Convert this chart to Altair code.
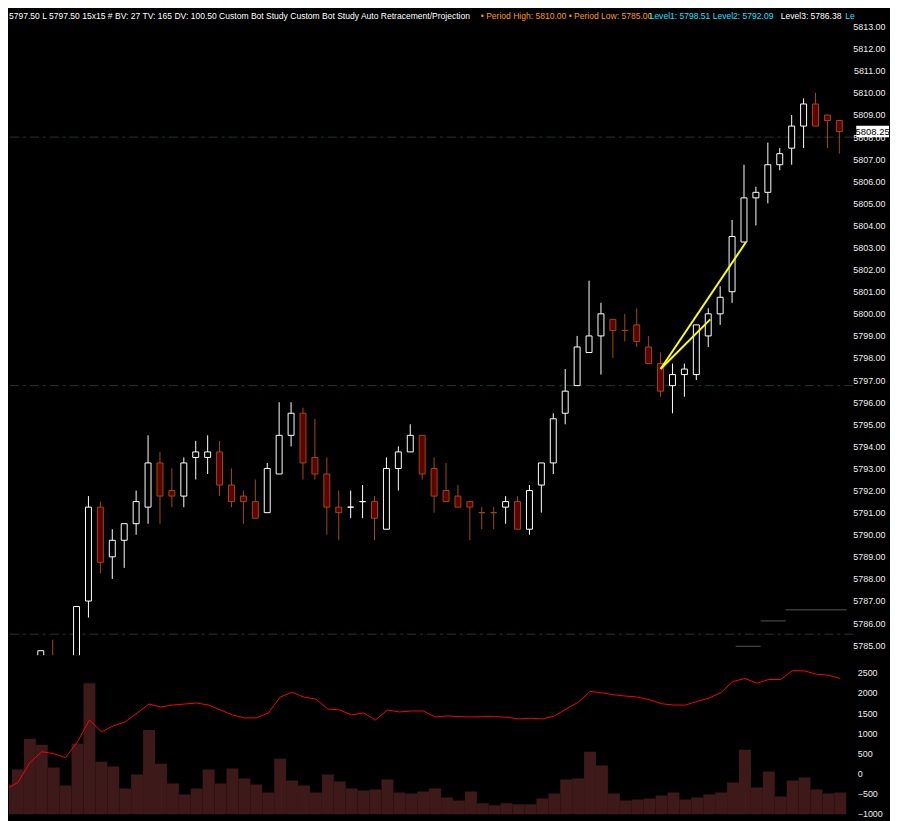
import altair as alt
import pandas as pd

# ---------------- data ----------------
opens = [5783.50, 5783.25, 5783.50, 5784.00, 5784.25, 5783.75, 5784.00, 5787.00, 5791.25, 5789.00,
         5789.75, 5790.50, 5791.25, 5793.25, 5792.00, 5791.75, 5793.50, 5793.50, 5793.75, 5792.25,
         5791.75, 5791.50, 5791.00, 5792.75, 5794.50, 5795.50, 5793.50, 5792.75, 5791.25, 5791.25,
         5791.50, 5791.50, 5790.25, 5793.00, 5793.75, 5794.50, 5793.00, 5792.00, 5791.75, 5791.50,
         5791.00, 5791.00, 5791.25, 5791.50, 5790.25, 5792.25, 5793.25, 5795.50, 5796.75, 5798.25,
         5799.00, 5799.75, 5799.25, 5799.50, 5798.50, 5797.75, 5796.75, 5797.25, 5797.25, 5799.00,
         5800.00, 5801.00, 5803.25, 5805.25, 5805.50, 5806.75, 5807.50, 5808.50, 5809.50, 5809.00,
         5808.75]
highs = [5784.00, 5783.75, 5784.25, 5784.75, 5785.25, 5784.25, 5786.75, 5791.75, 5791.50, 5790.25,
         5790.50, 5792.00, 5794.50, 5793.75, 5793.00, 5793.50, 5794.25, 5794.50, 5794.25, 5793.00,
         5792.00, 5792.50, 5793.25, 5796.00, 5796.00, 5795.75, 5795.25, 5793.50, 5792.00, 5792.00,
         5792.25, 5791.75, 5793.50, 5794.00, 5795.00, 5794.50, 5793.50, 5793.25, 5792.25, 5791.50,
         5791.25, 5791.25, 5791.75, 5791.75, 5792.25, 5793.25, 5795.50, 5797.50, 5799.00, 5801.50,
         5800.50, 5799.75, 5800.00, 5800.25, 5799.00, 5798.25, 5797.75, 5797.75, 5799.50, 5800.25,
         5801.25, 5804.25, 5806.75, 5805.75, 5807.75, 5807.50, 5809.00, 5809.75, 5810.00, 5809.00,
         5808.75]
lows = [5783.00, 5782.75, 5783.25, 5783.75, 5783.50, 5783.25, 5783.75, 5786.25, 5788.25, 5788.00,
        5788.50, 5790.00, 5790.50, 5790.50, 5791.25, 5791.25, 5792.50, 5792.75, 5791.75, 5791.25,
        5790.50, 5790.75, 5791.00, 5792.75, 5794.00, 5792.50, 5792.50, 5790.00, 5789.75, 5790.75,
        5790.75, 5789.75, 5790.25, 5792.00, 5793.75, 5792.50, 5791.00, 5791.50, 5791.25, 5789.75,
        5790.25, 5790.25, 5790.50, 5790.25, 5790.00, 5791.00, 5792.75, 5795.00, 5796.75, 5798.25,
        5797.25, 5798.00, 5798.75, 5798.50, 5797.75, 5796.25, 5795.50, 5796.25, 5797.00, 5798.50,
        5799.50, 5800.50, 5803.25, 5804.00, 5805.00, 5806.50, 5806.75, 5807.50, 5808.50, 5807.50,
        5807.25]
closes = [5783.25, 5783.50, 5784.00, 5784.75, 5783.75, 5784.00, 5786.75, 5791.25, 5788.75, 5789.75,
          5790.50, 5791.50, 5793.25, 5791.75, 5791.75, 5793.25, 5793.75, 5793.75, 5792.25, 5791.50,
          5791.50, 5790.75, 5793.00, 5794.50, 5795.50, 5793.25, 5792.75, 5791.25, 5791.00, 5791.25,
          5791.50, 5790.75, 5793.00, 5793.75, 5794.50, 5792.75, 5791.75, 5791.50, 5791.25, 5791.25,
          5791.00, 5791.00, 5791.50, 5790.25, 5792.00, 5793.25, 5795.25, 5796.50, 5798.50, 5799.00,
          5800.00, 5799.25, 5799.25, 5798.75, 5797.75, 5796.50, 5797.25, 5797.50, 5799.50, 5800.00,
          5800.75, 5803.50, 5805.25, 5805.50, 5806.75, 5807.25, 5808.50, 5809.50, 5808.50, 5808.75,
          5808.25]
direction = ["D", "U", "U", "U", "D", "U", "U", "U", "D", "U",
             "U", "U", "U", "D", "D", "U", "U", "U", "D", "D",
             "D", "D", "U", "U", "U", "D", "D", "D", "D", "U",
             "U", "D", "U", "U", "U", "D", "D", "D", "D", "D",
             "D", "D", "U", "D", "U", "U", "U", "U", "U", "U",
             "U", "D", "D", "D", "D", "D", "U", "U", "U", "U",
             "U", "U", "U", "U", "U", "U", "U", "U", "D", "D",
             "D"]
volume_bars = [-280, 92, 859, 710, 141, -304, 735, 2245, 290, 166,
               -379, -32, 1081, 240, -255, -527, -379, 92, -255, 116,
               -131, -280, -478, 364, -181, -304, -478, -32, -205, -379,
               -428, -403, -156, -478, -502, -453, -379, -601, -676, -453,
               -750, -799, -750, -775, -775, -626, -502, -156, -131, 537,
               191, -502, -676, -651, -626, -552, -478, -651, -601, -527,
               -478, -230, 587, -354, 42, -577, -181, -106, -403, -502,
               -478]
red_line = [-396, -230, 265, 537, 488, 389, 785, 1329, 1032, 1181,
            1280, 1502, 1725, 1651, 1700, 1725, 1750, 1700, 1577, 1453,
            1379, 1379, 1502, 1898, 2022, 1898, 1849, 1601, 1577, 1453,
            1502, 1329, 1577, 1527, 1552, 1552, 1403, 1428, 1411, 1403,
            1411, 1411, 1396, 1354, 1371, 1354, 1428, 1601, 1767, 2039,
            2005, 1955, 1923, 1898, 1832, 1733, 1700, 1700, 1792, 1874,
            2015, 2287, 2361, 2245, 2336, 2336, 2559, 2549, 2468, 2443,
            2361]

level_lines = [5808.0, 5796.75, 5785.5]
step_x0 = [61.3, 63.4, 65.5]
step_x1 = [63.4, 65.5, 70.6]
step_y = [5784.95, 5786.1, 5786.6]
proj_x0 = [55.0, 55.0]
proj_y0 = [5797.5, 5797.5]
proj_x1 = [62.17, 59.17]
proj_y1 = [5803.25, 5799.75]
last_price = [5808.25]

price_ticks = list(range(5785, 5814))
ind_ticks = [-1000, -500, 0, 500, 1000, 1500, 2000, 2500]

header_white = ("5797.50 L 5797.50 15x15 # BV: 27 TV: 165 DV: 100.50 Custom Bot Study "
                "Custom Bot Study Auto Retracement/Projection")
header_orange = "\u2022 Period High: 5810.00 \u2022 Period Low: 5785.00"
header_cyan = "Level1: 5798.51  Level2: 5792.09"
header_white2 = "Level3: 5786.38"
header_cyan2 = "Le"

# ---------------- tables ----------------
n = len(opens)
candles = pd.DataFrame({"i": list(range(n)), "open": opens, "high": highs, "low": lows,
                        "close": closes, "dir": direction})
ind = pd.DataFrame({"i": list(range(n)), "vol": volume_bars, "line": red_line})
levels = pd.DataFrame({"lvl": level_lines})
steps = pd.DataFrame({"x0": step_x0, "x1": step_x1, "y": step_y})
proj = pd.DataFrame({"x0": proj_x0, "y0": proj_y0, "x1": proj_x1, "y1": proj_y1})
lp = pd.DataFrame({"p": last_price})

FONT = "Liberation Sans"
W = 850
xscale = alt.Scale(domain=[1 / 3, 71 + 1 / 6], nice=False, zero=False, padding=0)
pscale = alt.Scale(domain=[5784.54, 5813.72], nice=False, zero=False, padding=0)
iscale = alt.Scale(domain=[-1022, 2814], nice=False, zero=False, padding=0)

paxis = alt.Axis(orient="right", values=price_ticks, format=".2f", labelAlign="right",
                 labelPadding=32, ticks=False, tickSize=0, domain=False, grid=False, title=None,
                 labelColor="#eeeeee", labelFont=FONT, labelFontSize=9, labelOverlap=False)
iaxis = alt.Axis(orient="right", values=ind_ticks, format="d", labelAlign="left",
                 labelPadding=4, ticks=False, tickSize=0, domain=False, grid=False, title=None,
                 labelColor="#eeeeee", labelFont=FONT, labelFontSize=9, labelOverlap=False)


def X(f):
    return alt.X(f, type="quantitative", scale=xscale, axis=None)


def PY(f):
    return alt.Y(f, type="quantitative", scale=pscale, axis=paxis)


up = alt.datum.dir == "U"

dashed = alt.Chart(levels).mark_rule(color="#1d3a34", strokeWidth=1, strokeDash=[9, 4, 3, 4]).encode(
    y=PY("lvl"))
stepl = alt.Chart(steps).mark_rule(color="#555555", strokeWidth=1, clip=True).encode(
    x=X("x0"), x2="x1", y=PY("y"))
wicks = alt.Chart(candles).mark_rule(strokeWidth=1, clip=True).encode(
    x=X("i"), y=PY("low"), y2="high",
    color=alt.condition(up, alt.value("#ffffff"), alt.value("#a24c08")))
bodies = alt.Chart(candles).mark_bar(size=6, strokeWidth=1, clip=True).encode(
    x=X("i"), y=PY("open"), y2="close",
    fill=alt.condition(up, alt.value("#000000"), alt.value("#5e0202")),
    stroke=alt.condition(up, alt.value("#ffffff"), alt.value("#9c4a0c")))
yellow = alt.Chart(proj).mark_rule(color="#ffff00", strokeWidth=2, clip=True).encode(
    x=X("x0"), x2="x1", y=PY("y0"), y2="y1")


def header(txt, x, color):
    return alt.Chart(pd.DataFrame({"t": [txt]})).mark_text(
        align="left", baseline="middle", font=FONT, fontSize=8.6, color=color
    ).encode(x=alt.value(x), y=alt.value(5), text="t:N")


hdr = [header(header_white, 0, "#ffffff"), header(header_orange, 475, "#ff9a00"),
       header(header_cyan, 645, "#19e1ff"), header(header_white2, 777, "#ffffff"),
       header(header_cyan2, 842, "#19e1ff")]

box = alt.Chart(lp).transform_calculate(lo="datum.p - 0.26", hi="datum.p + 0.26").mark_rect(
    fill="#ffffff").encode(x=alt.value(853), x2=alt.value(886), y=PY("lo"), y2="hi")
boxtxt = alt.Chart(lp).mark_text(align="center", baseline="middle", font=FONT, fontSize=9.5,
                                 color="#000000").encode(
    x=alt.value(869.5), y=PY("p"), text=alt.Text("p:Q", format=".2f"))

price = alt.layer(dashed, stepl, wicks, bodies, yellow, *hdr, box, boxtxt).properties(
    width=W, height=649)

vol = alt.Chart(ind).transform_calculate(xl="datum.i - 5/12", xr="datum.i + 7/12").mark_rect(
    color="#3e1919", clip=True).encode(
    x=X("xl"), x2="xr",
    y=alt.Y("vol", type="quantitative", scale=iscale, axis=iaxis), y2=alt.datum(-1100))
redl = alt.Chart(ind).transform_calculate(xc="datum.i + 1/12").mark_line(
    color="#ff0000", strokeWidth=1, clip=True).encode(
    x=X("xc"), y=alt.Y("line", type="quantitative", scale=iscale, axis=iaxis))
indicator = alt.layer(vol, redl).properties(width=W, height=155)

chart = alt.vconcat(price, indicator, spacing=5).properties(
    padding=0, background="#000000").configure_view(stroke=None)

chart.save("out.html", embed_options={"renderer": "svg", "actions": False})
